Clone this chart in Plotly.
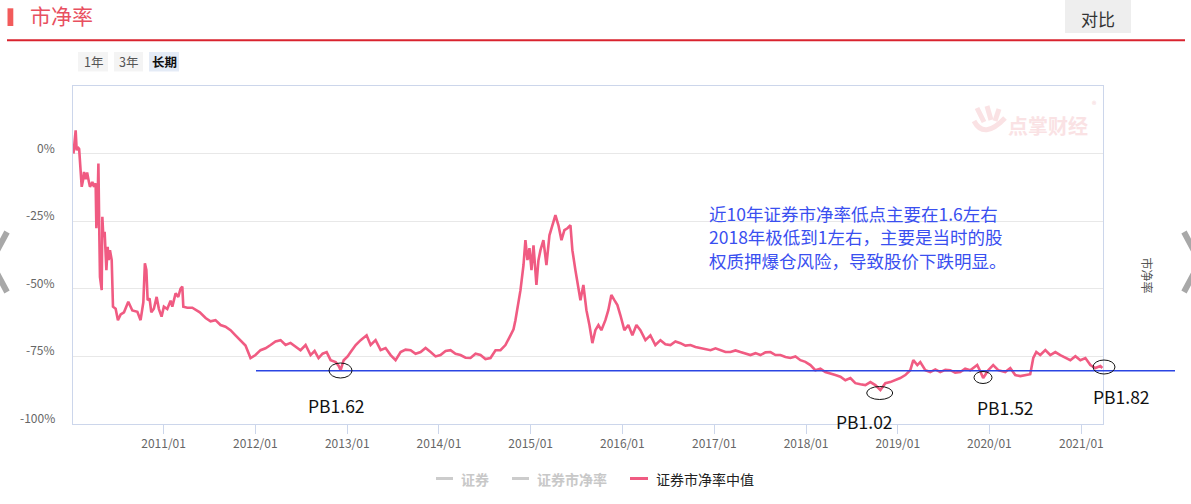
import plotly.graph_objects as go
import pandas as pd

# ---------------- data ----------------
# dates as decimal years, values = 证券市净率中值 change in %
pb_years = [
    2010.017, 2010.030, 2010.041, 2010.052, 2010.063, 2010.079, 2010.096, 2010.107, 2010.121, 2010.132,
    2010.150, 2010.166, 2010.183, 2010.197, 2010.223, 2010.241, 2010.259, 2010.267, 2010.278, 2010.289,
    2010.300, 2010.306, 2010.325, 2010.332, 2010.343, 2010.357, 2010.376, 2010.390, 2010.401, 2010.415,
    2010.434, 2010.448, 2010.477, 2010.502, 2010.532, 2010.568, 2010.615, 2010.659, 2010.714, 2010.749,
    2010.779, 2010.796, 2010.812, 2010.826, 2010.847, 2010.866, 2010.894, 2010.924, 2010.949, 2010.978,
    2011.003, 2011.040, 2011.076, 2011.095, 2011.131, 2011.160, 2011.185, 2011.204, 2011.215, 2011.258,
    2011.313, 2011.349, 2011.395, 2011.458, 2011.512, 2011.566, 2011.621, 2011.675, 2011.730, 2011.784,
    2011.839, 2011.893, 2011.948, 2012.002, 2012.057, 2012.111, 2012.166, 2012.220, 2012.275, 2012.329,
    2012.383, 2012.438, 2012.492, 2012.547, 2012.601, 2012.645, 2012.688, 2012.732, 2012.776, 2012.819,
    2012.874, 2012.907, 2012.928, 2012.961, 2013.004, 2013.037, 2013.092, 2013.146, 2013.179, 2013.211,
    2013.255, 2013.309, 2013.364, 2013.418, 2013.473, 2013.527, 2013.582, 2013.636, 2013.691, 2013.745,
    2013.800, 2013.854, 2013.909, 2013.963, 2014.017, 2014.072, 2014.126, 2014.181, 2014.235, 2014.290,
    2014.344, 2014.399, 2014.453, 2014.507, 2014.562, 2014.617, 2014.671, 2014.725, 2014.780, 2014.813,
    2014.834, 2014.867, 2014.889, 2014.922, 2014.943, 2014.965, 2014.987, 2015.009, 2015.031, 2015.063,
    2015.085, 2015.107, 2015.139, 2015.172, 2015.205, 2015.237, 2015.270, 2015.303, 2015.336, 2015.368,
    2015.401, 2015.434, 2015.455, 2015.488, 2015.521, 2015.543, 2015.575, 2015.608, 2015.641, 2015.673,
    2015.706, 2015.739, 2015.771, 2015.815, 2015.847, 2015.880, 2015.913, 2015.946, 2015.978, 2016.022,
    2016.065, 2016.109, 2016.153, 2016.196, 2016.251, 2016.305, 2016.359, 2016.414, 2016.468, 2016.523,
    2016.577, 2016.632, 2016.686, 2016.741, 2016.795, 2016.850, 2016.904, 2016.959, 2017.013, 2017.068,
    2017.122, 2017.176, 2017.231, 2017.285, 2017.340, 2017.394, 2017.449, 2017.503, 2017.558, 2017.612,
    2017.667, 2017.721, 2017.776, 2017.830, 2017.885, 2017.939, 2017.993, 2018.048, 2018.102, 2018.157,
    2018.211, 2018.266, 2018.320, 2018.375, 2018.429, 2018.484, 2018.538, 2018.593, 2018.647, 2018.702,
    2018.756, 2018.811, 2018.865, 2018.919, 2018.974, 2019.028, 2019.083, 2019.137, 2019.170, 2019.214,
    2019.246, 2019.301, 2019.355, 2019.410, 2019.464, 2019.519, 2019.573, 2019.627, 2019.682, 2019.736,
    2019.791, 2019.867, 2019.900, 2019.932, 2019.987, 2020.041, 2020.096, 2020.172, 2020.227, 2020.281,
    2020.336, 2020.390, 2020.444, 2020.477, 2020.510, 2020.553, 2020.608, 2020.662, 2020.717, 2020.771,
    2020.826, 2020.880, 2020.935, 2020.989, 2021.044, 2021.098, 2021.153, 2021.207, 2021.229,
]
pb_median = [
    0.0, 5.0, 8.6, 1.2, 2.4, 1.7, -6.2, -12.3, -9.9, -6.8,
    -9.5, -7.0, -10.0, -12.3, -10.5, -12.3, -11.0, -27.6, -21.0, -3.7,
    -32.0, -45.6, -50.5, -23.4, -30.8, -28.9, -43.1, -34.5, -39.4, -35.7,
    -39.4, -56.6, -57.4, -61.6, -59.5, -58.7, -54.8, -58.0, -58.5, -61.6,
    -55.0, -40.6, -43.0, -54.2, -53.6, -58.7, -57.4, -53.0, -57.5, -60.3,
    -56.6, -57.5, -54.4, -56.6, -51.7, -53.0, -49.9, -49.2, -56.6, -57.0,
    -57.0, -57.8, -58.7, -60.8, -62.0, -61.6, -63.4, -64.0, -65.3, -67.2,
    -69.0, -71.0, -75.6, -74.5, -72.7, -72.0, -70.8, -69.5, -69.0, -70.8,
    -70.0, -71.5, -72.7, -70.8, -74.5, -73.0, -75.6, -74.0, -73.4, -76.4,
    -77.1, -78.5, -80.1, -76.4, -75.0, -73.4, -70.8, -69.0, -68.0, -67.2,
    -70.8, -69.0, -72.7, -71.9, -74.5, -76.4, -73.4, -72.5, -72.7, -74.0,
    -73.4, -71.9, -73.4, -75.0, -74.5, -73.0, -72.7, -74.0, -74.5, -75.5,
    -75.6, -74.0, -74.5, -76.0, -75.6, -72.7, -72.7, -70.8, -67.2, -65.0,
    -61.6, -54.2, -50.5, -41.2, -32.0, -39.4, -35.0, -43.1, -33.9, -48.6,
    -39.4, -35.7, -32.0, -41.2, -30.2, -26.5, -22.8, -26.5, -32.0, -28.3,
    -27.6, -26.5, -35.7, -43.1, -50.5, -54.2, -48.6, -57.9, -63.4, -70.1,
    -65.3, -63.4, -65.3, -61.6, -57.9, -52.3, -54.2, -56.0, -59.7, -65.3,
    -63.4, -67.2, -63.4, -65.3, -69.0, -67.2, -70.8, -69.0, -70.5, -70.8,
    -69.5, -70.1, -71.0, -70.8, -71.5, -71.9, -72.5, -72.7, -72.0, -72.7,
    -73.4, -73.4, -72.8, -73.4, -74.0, -74.5, -73.8, -74.5, -73.5, -73.4,
    -74.5, -74.5, -75.2, -75.6, -75.0, -76.4, -77.0, -78.2, -80.1, -79.5,
    -80.8, -81.5, -81.9, -82.5, -83.8, -83.0, -84.9, -85.3, -85.6, -84.5,
    -85.6, -87.4, -84.9, -84.5, -83.8, -83.0, -81.9, -80.1, -76.4, -78.2,
    -77.1, -80.1, -80.8, -79.8, -80.8, -80.0, -80.1, -81.0, -80.8, -79.5,
    -80.1, -78.2, -80.5, -83.0, -80.1, -78.2, -80.1, -80.8, -79.3, -81.9,
    -82.3, -81.9, -81.6, -75.6, -73.4, -74.5, -72.7, -74.5, -73.4, -74.5,
    -75.6, -76.4, -74.9, -76.4, -75.6, -78.2, -79.3, -78.6, -79.3,
]
y_ticks = [-100, -75, -50, -25, 0]
y_tick_text = ["-100%", "-75%", "-50%", "-25%", "0%"]
support_level = -80.3
note_lines = ["近10年证券市净率低点主要在1.6左右",
              "2018年极低到1左右，主要是当时的股",
              "权质押爆仓风险，导致股价下跌明显。"]
pb_labels = ["PB1.62", "PB1.02", "PB1.52", "PB1.82"]
legend_names = ["证券", "证券市净率", "证券市净率中值"]
range_buttons = ["1年", "3年", "长期"]

# ---------------- helpers ----------------
def dec2date(y):
    yr = int(y)
    s = pd.Timestamp(year=yr, month=1, day=1)
    e = pd.Timestamp(year=yr + 1, month=1, day=1)
    return s + (e - s) * (y - yr)

dates = [dec2date(v) for v in pb_years]

W, H = 1191, 504
L, R, T, B = 73, 88, 86, 80
PW, PH = W - L - R, H - T - B
YMIN, YMAX = -100, 25
def px(x): return (x - L) / PW
def py(y): return (H - B - y) / PH
def vy(v): return (v - YMIN) / (YMAX - YMIN)

FONT = "Noto Sans CJK SC, Noto Sans, sans-serif"
PINK = "#f05b82"
WM = "#fae2e4"

def note(text, x, y, size, color, xa="center", ya="middle", **kw):
    d = dict(text=text, xref="paper", yref="paper", x=x, y=y, xanchor=xa, yanchor=ya,
             showarrow=False, font=dict(size=size, color=color, family=FONT))
    d.update(kw)
    return d

fig = go.Figure()
fig.add_trace(go.Scatter(x=dates, y=pb_median, mode="lines",
                         line=dict(color=PINK, width=2.6), name=legend_names[2],
                         showlegend=False, hoverinfo="skip"))

shapes = []
ann = []

# header
shapes.append(dict(type="rect", xref="paper", yref="paper", x0=px(7.5), x1=px(13.3),
                   y0=py(26), y1=py(8.3), fillcolor="#f25b5b", line=dict(width=0)))
ann.append(note("市净率", px(28), py(15), 21, "#e8505f", xa="left"))
shapes.append(dict(type="line", xref="paper", yref="paper", x0=px(7), x1=px(1185), y0=py(40.3),
                   y1=py(40.3), line=dict(color="#d9232e", width=2)))
shapes.append(dict(type="rect", xref="paper", yref="paper", x0=px(1065), x1=px(1131), y0=py(33),
                   y1=py(0), fillcolor="#eeeeee", line=dict(width=0)))
ann.append(note("对比", px(1098), py(18), 17, "#333333"))

btn_x = [(78, 108), (114, 143), (149, 179)]
for i, (a, b) in enumerate(btn_x):
    active = i == 2
    shapes.append(dict(type="rect", xref="paper", yref="paper", x0=px(a), x1=px(b), y0=py(71.5),
                       y1=py(52), fillcolor="#e4ebf6" if active else "#f4f4f4", line=dict(width=0)))
    ann.append(note(("<b>%s</b>" % range_buttons[i]) if active else range_buttons[i],
                    px((a + b) / 2), py(61.5), 12.5, "#111111" if active else "#555555"))

# side chevrons
shapes.append(dict(type="path", xref="paper", yref="paper",
                   path="M %f,%f L %f,%f L %f,%f" % (px(7), py(232), px(-9), py(262), px(7), py(292)),
                   line=dict(color="#a8a8a8", width=6)))
shapes.append(dict(type="path", xref="paper", yref="paper",
                   path="M %f,%f L %f,%f L %f,%f" % (px(1184), py(232), px(1200), py(262), px(1184), py(292)),
                   line=dict(color="#a8a8a8", width=6)))

# y tick labels (drawn slightly above the grid lines, as in the reference)
for v, t in zip(y_ticks, y_tick_text):
    ann.append(note(t, 0, vy(v), 12, "#666666", xa="right", xshift=-16, yshift=6.5))

# watermark
ann.append(note("<b>点掌财经</b>", px(1048), py(125), 20, WM))
ann.append(note("®", px(1094), py(104), 9, "#f5d3d6"))
hand = "M %f,%f Q %f,%f %f,%f" % (px(974), py(121), px(984), py(140), px(1005), py(118))
shapes.append(dict(type="path", xref="paper", yref="paper", path=hand, line=dict(color=WM, width=5)))
for (a, b, c, d) in [(977, 108, 984, 122), (987, 106, 991, 120), (999, 109, 995, 121)]:
    shapes.append(dict(type="line", xref="paper", yref="paper", x0=px(a), y0=py(b), x1=px(c),
                       y1=py(d), line=dict(color=WM, width=5)))

# right axis name
ann.append(note("市净率", px(1147.5), py(275), 12, "#555555", textangle=90))

# support line & marks
shapes.append(dict(type="line", xref="paper", yref="y", x0=px(256), x1=px(1175), y0=support_level,
                   y1=support_level, line=dict(color="#2b45e3", width=1.6), layer="above"))
ellipses = [(340.5, 370.5, 23, 15), (879.7, 393, 26, 13), (983, 377.5, 18, 12), (1104, 367, 22, 14)]
for cx, cy, w, h in ellipses:
    shapes.append(dict(type="circle", xref="paper", yref="paper", x0=px(cx - w / 2), x1=px(cx + w / 2),
                       y0=py(cy + h / 2), y1=py(cy - h / 2), line=dict(color="#111111", width=1),
                       layer="above"))
label_pos = [(336.5, 405), (864, 421), (1005, 407), (1121.5, 396)]
for t, (lx, ly) in zip(pb_labels, label_pos):
    ann.append(note(t, px(lx), py(ly), 17.5, "#111111"))

for t, ly in zip(note_lines, [213, 237, 260]):
    ann.append(note(t, px(707), py(ly), 17.5, "#3a4ff0", xa="left"))

# manual legend
leg = [(436, 453, 459, "#cccccc", "#c8c8c8"), (512, 529, 535, "#cccccc", "#c8c8c8"),
       (630, 648, 654, PINK, "#222222")]
for i, (name, (a, b, tx, lc, tc)) in enumerate(zip(legend_names, leg)):
    shapes.append(dict(type="line", xref="paper", yref="paper", x0=px(a), x1=px(b), y0=py(478.5),
                       y1=py(478.5), line=dict(color=lc, width=3)))
    ann.append(note(name if i == 2 else "<b>%s</b>" % name, px(tx), py(478.5), 14, tc, xa="left"))

fig.update_layout(
    width=W, height=H, margin=dict(l=L, r=R, t=T, b=B, pad=0),
    paper_bgcolor="white", plot_bgcolor="white", showlegend=False,
    shapes=shapes, annotations=ann, font=dict(family=FONT),
    xaxis=dict(type="date", range=[dec2date(2010.012), dec2date(2021.236)],
               tick0="2011-01-01", dtick="M12", tickformat="%Y/%m",
               showgrid=False, zeroline=False, showline=True, linecolor="#ccd6eb", linewidth=1,
               mirror=True, ticks="outside", ticklen=9, tickcolor="#ccd6eb",
               tickfont=dict(size=12, color="#666666", family=FONT)),
    yaxis=dict(range=[YMIN, YMAX], tickvals=y_ticks, showticklabels=False, showgrid=True,
               gridcolor="#e8e8e8", zeroline=False, showline=True, linecolor="#ccd6eb",
               linewidth=1, mirror=True, ticks=""),
)
fig.write_html("out.html", config={"displayModeBar": False},
               post_script="document.body.style.margin='0';document.body.style.padding='0';"
                           "document.documentElement.style.overflow='hidden';")
